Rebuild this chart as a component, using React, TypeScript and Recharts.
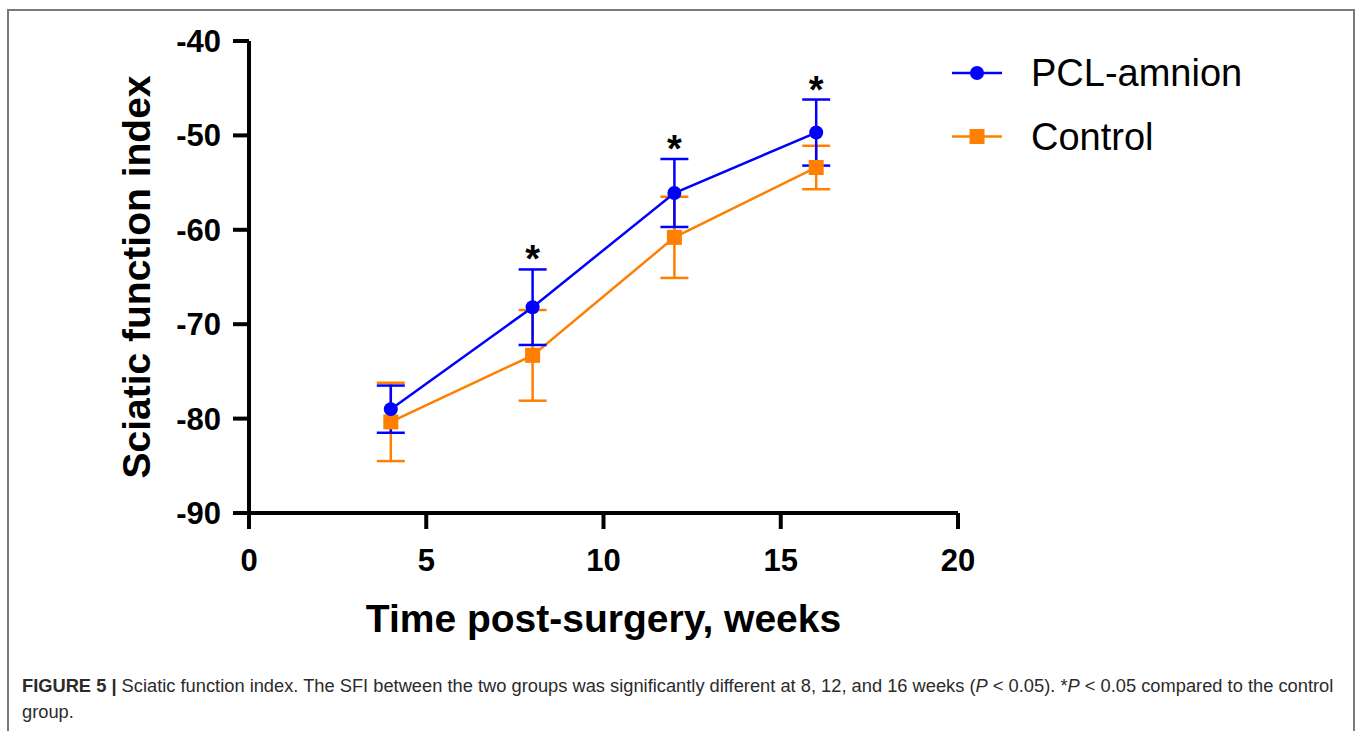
import React from 'react'
import { LineChart, Line, XAxis, YAxis, ErrorBar, Legend } from 'recharts'

const weeks = [4, 8, 12, 16]
const pclMean = [-79.0, -68.2, -56.1, -49.7]
const pclSd = [2.5, 4.0, 3.6, 3.5]
const ctrlMean = [-80.35, -73.3, -60.8, -53.4]
const ctrlSd = [4.15, 4.8, 4.3, 2.3]
const significant = [false, true, true, true]

const xTicks = [0, 5, 10, 15, 20]
const yTicks = [-90, -80, -70, -60, -50, -40]

const data = weeks.map((w, i) => ({
  week: w,
  pcl: pclMean[i],
  pclSd: pclSd[i],
  ctrl: ctrlMean[i],
  ctrlSd: ctrlSd[i],
  star: significant[i] ? pclMean[i] + pclSd[i] : null,
}))

const BLUE = '#0000ff'
const ORANGE = '#ff8000'
const FONT = '"Liberation Sans", Arial, sans-serif'

const YTick = (props: any) => {
  const { x, y, payload } = props
  return (
    <text x={x} y={y} dy="0.355em" textAnchor="end" fontFamily={FONT} fontWeight="bold" fontSize={31} fill="#000">
      {payload.value}
    </text>
  )
}

const XTick = (props: any) => {
  const { x, y, payload } = props
  return (
    <text x={x} y={y} dy="0.71em" textAnchor="middle" fontFamily={FONT} fontWeight="bold" fontSize={31} fill="#000">
      {payload.value}
    </text>
  )
}

const SquareDot = (props: any) => {
  const { cx, cy, key } = props
  if (cx == null || cy == null) return <g key={key} />
  return <rect key={key} x={cx - 7.5} y={cy - 7.5} width={15} height={15} fill={ORANGE} />
}

// asterisk sits just above the upper error cap
const StarDot = (props: any) => {
  const { cx, cy, key, value } = props
  if (cx == null || cy == null || value == null) return <g key={key} />
  return (
    <text key={key} x={cx} y={cy + 3} textAnchor="middle" fontFamily={FONT} fontWeight="bold" fontSize={38} fill="#000">
      *
    </text>
  )
}

const LegendContent = () => (
  <svg width={400} height={130}>
    <line x1={7} y1={33} x2={57} y2={33} stroke={BLUE} strokeWidth={2.5} />
    <circle cx={32} cy={33} r={7} fill={BLUE} />
    <text x={86} y={46} fontFamily={FONT} fontSize={38} fill="#000">PCL-amnion</text>
    <line x1={7} y1={96.5} x2={57} y2={96.5} stroke={ORANGE} strokeWidth={2.5} />
    <rect x={24.5} y={89} width={15} height={15} fill={ORANGE} />
    <text x={86} y={109.5} fontFamily={FONT} fontSize={38} fill="#000">Control</text>
  </svg>
)

const captionStyle: React.CSSProperties = {
  position: 'absolute',
  left: 22,
  fontFamily: FONT,
  fontSize: 18.3,
  lineHeight: '26px',
  color: '#2b2b2b',
  whiteSpace: 'nowrap',
}

export default function App() {
  return (
    <div style={{ position: 'absolute', left: 0, top: 0, width: 1358, height: 731, background: '#fff', overflow: 'hidden' }}>
      <div
        style={{
          position: 'absolute',
          left: 7,
          top: 9,
          width: 1344,
          height: 740,
          borderTop: '2px solid #7a7a7a',
          borderLeft: '2px solid #7a7a7a',
          borderRight: '2px solid #7a7a7a',
        }}
      />
      <div style={{ position: 'absolute', left: 0, top: 0 }}>
        <LineChart width={1358} height={660} data={data} margin={{ top: 41, right: 400, left: 129, bottom: 17 }}>
          <XAxis
            dataKey="week"
            type="number"
            domain={[0, 20]}
            ticks={xTicks}
            height={130}
            axisLine={{ stroke: '#000', strokeWidth: 4 }}
            tickLine={{ stroke: '#000', strokeWidth: 4 }}
            tickSize={16}
            tickMargin={20}
            tick={<XTick />}
            label={(p: any) => {
              const vb = p.viewBox
              return (
                <text x={vb.x + vb.width / 2} y={vb.y + 119} textAnchor="middle" fontFamily={FONT} fontWeight="bold" fontSize={39} fill="#000">
                  Time post-surgery, weeks
                </text>
              )
            }}
          />
          <YAxis
            type="number"
            domain={[-90, -40]}
            ticks={yTicks}
            width={120}
            axisLine={{ stroke: '#000', strokeWidth: 4 }}
            tickLine={{ stroke: '#000', strokeWidth: 4 }}
            tickSize={16}
            tickMargin={12}
            tick={<YTick />}
            label={(p: any) => {
              const vb = p.viewBox
              const cx = vb.x + 21
              const cy = vb.y + vb.height / 2
              return (
                <text x={cx} y={cy} transform={`rotate(-90 ${cx} ${cy})`} textAnchor="middle" fontFamily={FONT} fontWeight="bold" fontSize={39} fill="#000">
                  Sciatic function index
                </text>
              )
            }}
          />
          <Legend
            layout="vertical"
            align="center"
            verticalAlign="middle"
            wrapperStyle={{ left: 945, top: 40, width: 400, height: 130 }}
            content={<LegendContent />}
          />
          <Line
            dataKey="ctrl"
            name="Control"
            stroke={ORANGE}
            strokeWidth={2.5}
            dot={<SquareDot />}
            activeDot={false}
            isAnimationActive={false}
          >
            <ErrorBar dataKey="ctrlSd" direction="y" width={14} stroke={ORANGE} strokeWidth={2.5} isAnimationActive={false} />
          </Line>
          <Line
            dataKey="pcl"
            name="PCL-amnion"
            stroke={BLUE}
            strokeWidth={2.5}
            dot={{ r: 7, fill: BLUE, stroke: BLUE, strokeWidth: 0 }}
            activeDot={false}
            isAnimationActive={false}
          >
            <ErrorBar dataKey="pclSd" direction="y" width={14} stroke={BLUE} strokeWidth={2.5} isAnimationActive={false} />
          </Line>
          <Line
            dataKey="star"
            stroke="none"
            dot={<StarDot />}
            activeDot={false}
            legendType="none"
            isAnimationActive={false}
          />
        </LineChart>
      </div>
      <div style={{ ...captionStyle, top: 673 }}>
        <b>FIGURE 5 |</b>
        <span> Sciatic function index. The SFI between the two groups was significantly different at 8, 12, and 16 weeks (</span>
        <i>P</i>
        <span> &lt; 0.05). *</span>
        <i>P</i>
        <span> &lt; 0.05 compared to the control</span>
      </div>
      <div style={{ ...captionStyle, top: 699 }}>group.</div>
    </div>
  )
}
